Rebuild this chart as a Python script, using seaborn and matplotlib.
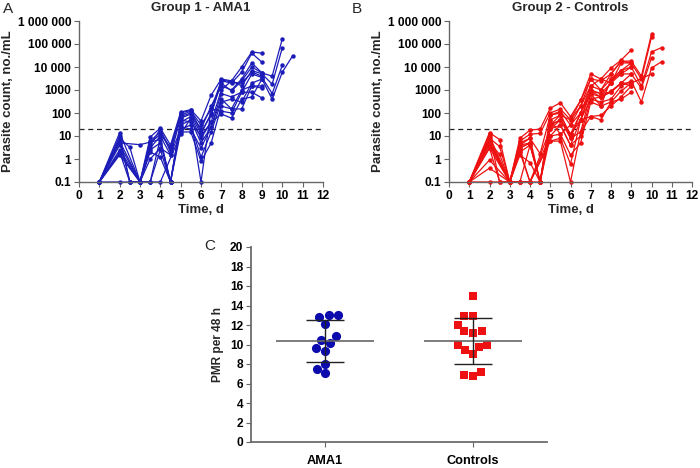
import numpy as np
import pandas as pd
import matplotlib
matplotlib.use("Agg")
import matplotlib.pyplot as plt
from matplotlib.ticker import FixedLocator, FixedFormatter, LogLocator, NullFormatter
import seaborn as sns

N = None
TIMES = [1, 2, 2.5, 3, 3.5, 4, 4.5, 5, 5.5, 6, 6.5, 7, 7.5, 8, 8.5, 9, 9.5, 10, 10.5]

# Group 1 - AMA1 (parasite count per subject; 0.1 = below detection)
g1_s01 = [.1, 14, N, .1, 9, 22, 4, 110, 140, 45, 600, 3000, 2500, 1e4, 4.5e4, 4e4, N, N, N]
g1_s02 = [.1, 8, 3.2, .1, 6, 15, 3, 80, 120, 30, 150, 2500, 2000, 6000, 4e4, 1.6e4, N, N, N]
g1_s03 = [.1, 6, N, .1, 3, 10, 1.5, 60, 90, 12, 100, 2000, 900, 2500, 1e4, 5500, 4000, 1.7e5, N]
g1_s04 = [.1, 5, N, 4.2, N, 7, .1, 40, 70, 8, 40, 1000, 2500, 1500, 7000, 5000, 1800, 7e4, N]
g1_s05 = [.1, 2.5, N, .1, 2.5, 5, .1, 30, 50, 5, 25, 700, 500, 800, 5000, 3500, 700, 1.2e4, N]
g1_s06 = [.1, 2, .1, .1, 1, 3, 1.5, 20, 30, 1.2, 15, 300, 400, 300, 2000, 3000, 400, 6000, 3e4]
g1_s07 = [.1, 1.5, N, .1, .1, 2.5, .1, 15, 15, .8, 5, 200, 150, 150, 1500, 1500, N, N, N]
g1_s08 = [.1, 7, .1, .1, .1, .1, N, 12, 60, .1, 150, 120, 100, 800, 800, 450, N, N, N]
g1_s09 = [.1, .1, N, .1, .1, 8, .1, 50, 40, 10, 40, 90, 60, 400, 500, 3000, N, N, N]
g1_s10 = [.1, 4, N, .1, 5, 12, 3, 70, 100, 20, 200, 1500, 1000, 3000, 1.5e4, 5500, N, N, N]
g1_s11 = [.1, 10, .1, .1, 4, 20, 2, 100, 130, 15, 80, 2800, 2200, 2000, 6000, 4000, N, N, N]
g1_s12 = [.1, 1.8, N, .1, 2, 1.2, .1, 25, 20, 3, 25, 400, 150, 1000, 1500, 1200, N, N, N]

# Group 2 - Controls
g2_s01 = [.1, 14, 7, .1, 8, 18, 20, 160, 280, 70, 350, 5000, 3000, 9000, 2e4, 5.5e4, N, N, N]
g2_s02 = [.1, 10, N, .1, 6, 12, 13, 100, 150, 50, 200, 3000, 2500, 5000, 1.8e4, 1.8e4, 4000, 2.7e5, N]
g2_s03 = [.1, 8, 3.5, .1, 4, 8, 1.7, 80, 120, 30, 100, 1500, 1000, 3000, 7000, 1.5e4, 3000, 2e5, N]
g2_s04 = [.1, 6, N, .1, 3, 5, .1, 50, 80, 12, 50, 900, 700, 2000, 5000, 1e4, 1500, 4.5e4, 7e4]
g2_s05 = [.1, 5, 1.6, .1, 2, 4, .1, 30, 50, 8, 15, 700, 500, 800, 2000, 5000, 1200, 2.5e4, N]
g2_s06 = [.1, 4, N, .1, 1.5, .7, .1, 20, 30, 4, 10, 400, 300, 400, 1500, 2500, 300, 9000, 1.7e4]
g2_s07 = [.1, 3, .1, .1, .1, .1, .1, 10, 12, 1.5, 5, 300, 200, 300, 900, 2000, N, 5000, N]
g2_s08 = [.1, .9, N, .1, .1, .1, N, 6, 8, .6, 50, 70, 80, 200, 500, 1500, N, N, N]
g2_s09 = [.1, .4, N, .1, .1, .1, N, 6, 6, .1, 15, 70, 50, 300, 400, 800, N, N, N]
g2_s10 = [.1, .1, N, .1, 2.5, .1, N, 20, 50, 12, 100, 1000, 700, 800, 2000, 1500, N, N, N]
g2_s11 = [.1, 7, N, .1, 5, 8, .1, 50, 12, 30, 200, 1500, 3000, 2000, 1.5e4, 1.5e4, N, N, N]
g2_s12 = [.1, 12, .1, .1, 3, 5, .1, 80, 100, 8, 100, 700, 200, 3000, 5000, 5000, N, N, N]
g2_s13 = [.1, 5, N, .1, .1, 4, .1, 30, 80, 50, 350, 3000, 1000, 5000, 1.8e4, 1.5e4, N, N, N]
g2_s14 = [.1, 3, N, .1, 2, .1, N, 10, 30, 4, 50, 400, 500, 2000, 7000, 1e4, N, N, N]
g2_s15 = [.1, 6, N, .1, 4, 5, .1, 30, 50, 12, 50, 900, 500, 900, 2000, 2000, N, N, N]

# Panel C: PMR per 48 h
PMR_AMA1 = [13.07, 12.83, 13.0, 12.08, 10.5, 10.85, 10.17, 9.62, 9.35, 8.02, 7.51, 7.06]
PMR_CTRL = [14.97, 12.92, 12.92, 12.0, 11.4, 11.2, 11.35, 9.95, 9.44, 9.0, 9.7, 9.95, 7.18, 6.74, 6.84]
GROUPS = ["AMA1", "Controls"]

YTICKS = [0.1, 1, 10, 100, 1000, 1e4, 1e5, 1e6]
YTICKLABELS = ["0.1", "1", "10", "100", "1000", "10 000", "100 000", "1 000 000"]
XTICKS = list(range(0, 13))
THRESHOLD = 20

BLUE = "#1c1cb8"
RED = "#ee1111"


def to_long(subjects):
    rows = []
    for i, s in enumerate(subjects):
        for t, v in zip(TIMES, s):
            if v is not None:
                rows.append({"subject": i, "t": t, "v": v})
    return pd.DataFrame(rows)


df1 = to_long([g1_s01, g1_s02, g1_s03, g1_s04, g1_s05, g1_s06, g1_s07, g1_s08, g1_s09, g1_s10, g1_s11, g1_s12])
df2 = to_long([g2_s01, g2_s02, g2_s03, g2_s04, g2_s05, g2_s06, g2_s07, g2_s08, g2_s09, g2_s10,
               g2_s11, g2_s12, g2_s13, g2_s14, g2_s15])

sns.set_theme(style="ticks")
plt.rcParams["font.family"] = ["Liberation Sans", "DejaVu Sans"]
plt.rcParams["axes.edgecolor"] = "#666666"
plt.rcParams["xtick.color"] = "#666666"
plt.rcParams["ytick.color"] = "#666666"
plt.rcParams["xtick.labelcolor"] = "black"
plt.rcParams["ytick.labelcolor"] = "black"

fig = plt.figure(figsize=(7.0, 4.68), dpi=100)
axA = fig.add_axes([79 / 700, 1 - 182 / 468, 244 / 700, 161 / 468])
axB = fig.add_axes([449 / 700, 1 - 182 / 468, 243 / 700, 161 / 468])
axC = fig.add_axes([251 / 700, 1 - 442 / 468, 296 / 700, 195 / 468])


def style_line_ax(ax, df, color, title):
    sns.lineplot(data=df, x="t", y="v", units="subject", estimator=None, color=color,
                 marker="o", markersize=3.2, markeredgewidth=0, linewidth=0.9, ax=ax,
                 legend=False)
    ax.set_yscale("log")
    ax.set_ylim(0.1, 1e6)
    ax.set_xlim(0, 12)
    ax.yaxis.set_major_locator(FixedLocator(YTICKS))
    ax.yaxis.set_major_formatter(FixedFormatter(YTICKLABELS))
    ax.yaxis.set_minor_locator(LogLocator(base=10, subs=np.arange(2, 10)))
    ax.yaxis.set_minor_formatter(NullFormatter())
    ax.set_xticks(XTICKS)
    ax.axhline(THRESHOLD, color="#222222", linestyle=(0, (4, 3)), linewidth=0.9, zorder=0)
    for lab in ax.get_xticklabels() + ax.get_yticklabels():
        lab.set_fontweight("bold")
        lab.set_fontsize(8.6)
    ax.tick_params(axis="both", which="major", length=3.5, width=0.8, pad=2)
    ax.tick_params(axis="y", which="minor", length=2, width=0.6)
    ax.set_xlabel("Time, d", fontsize=9.5, fontweight="bold", labelpad=2)
    ax.set_ylabel("Parasite count, no./mL", fontsize=9.5, fontweight="bold", labelpad=3)
    ax.set_title(title, fontsize=9.5, fontweight="bold", pad=7)
    sns.despine(ax=ax)
    for sp in ax.spines.values():
        sp.set_linewidth(1.0)
    for line in ax.lines:
        line.set_clip_on(False)


style_line_ax(axA, df1, BLUE, "Group 1 - AMA1")
style_line_ax(axB, df2, RED, "Group 2 - Controls")

# Panel C
dfC = pd.DataFrame({
    "group": ["AMA1"] * len(PMR_AMA1) + ["Controls"] * len(PMR_CTRL),
    "pmr": PMR_AMA1 + PMR_CTRL,
})
sns.swarmplot(data=dfC[dfC.group == "AMA1"], x="group", y="pmr", order=GROUPS, color="#0b0bad",
              marker="o", size=6.6, linewidth=0, ax=axC)
sns.swarmplot(data=dfC[dfC.group == "Controls"], x="group", y="pmr", order=GROUPS, color="#ee1111",
              marker="s", size=6.2, linewidth=0, ax=axC)
for i, g in enumerate(GROUPS):
    vals = np.array(dfC.loc[dfC.group == g, "pmr"])
    m, sd = vals.mean(), vals.std(ddof=1)
    axC.hlines(m, i - 0.33, i + 0.33, color="#666666", linewidth=1.2, zorder=3)
    axC.vlines(i, m - sd, m + sd, color="#222222", linewidth=1.0, zorder=3)
    axC.hlines([m - sd, m + sd], i - 0.13, i + 0.13, color="#222222", linewidth=1.0, zorder=3)
axC.set_xlim(-0.5, 1.5)
axC.set_ylim(0, 20)
axC.set_yticks(range(0, 21, 2))
axC.set_xlabel("")
axC.set_ylabel("PMR per 48 h", fontsize=8.6, fontweight="bold", labelpad=4)
for lab in axC.get_yticklabels():
    lab.set_fontweight("bold")
    lab.set_fontsize(8.6)
for lab in axC.get_xticklabels():
    lab.set_fontweight("bold")
    lab.set_fontsize(9.2)
axC.tick_params(axis="y", length=3.5, width=0.8, pad=2)
axC.tick_params(axis="x", length=3.5, width=0.8, pad=5.5)
sns.despine(ax=axC)

fig.text(3 / 700, 1 - 2 / 468, "A", fontsize=11, va="top", ha="left")
fig.text(352 / 700, 1 - 2 / 468, "B", fontsize=11, va="top", ha="left")
fig.text(204 / 700, 1 - 239 / 468, "C", fontsize=11, va="top", ha="left")

fig.savefig("out.png", dpi=100)
